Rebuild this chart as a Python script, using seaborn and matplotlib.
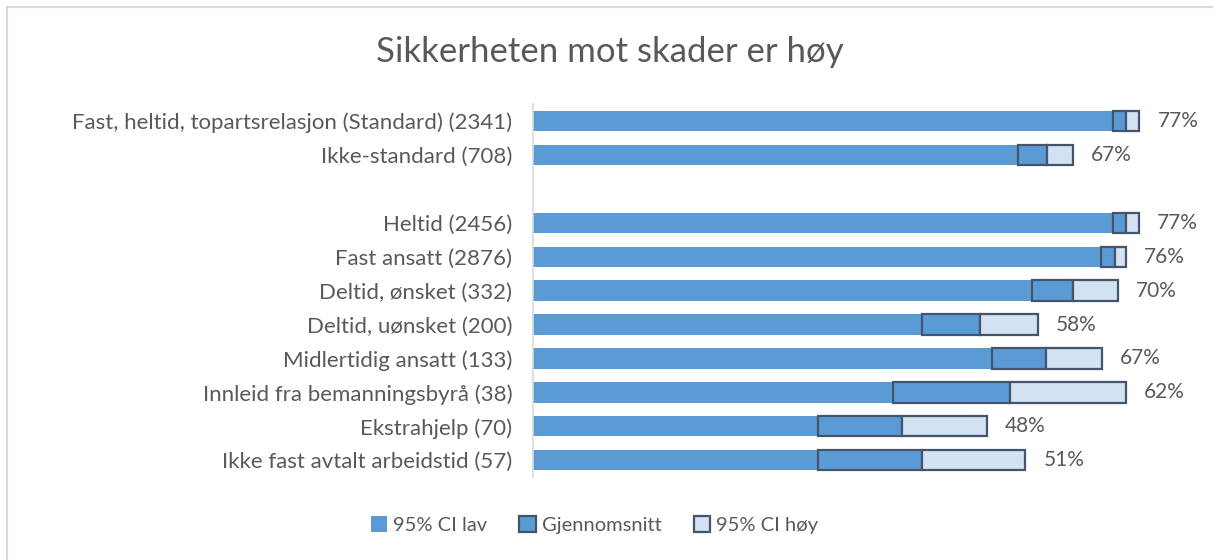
import numpy as np
import pandas as pd
import matplotlib.pyplot as plt
from matplotlib.patches import Patch, Rectangle
import seaborn as sns

# data (percent), top to bottom; "" is the blank spacer row
labels = ["Fast, heltid, topartsrelasjon (Standard) (2341)", "Ikke-standard (708)", "",
          "Heltid (2456)", "Fast ansatt (2876)", "Deltid, ønsket (332)", "Deltid, uønsket (200)",
          "Midlertidig ansatt (133)", "Innleid fra bemanningsbyrå (38)", "Ekstrahjelp (70)",
          "Ikke fast avtalt arbeidstid (57)"]
ci_low  = [75.4, 63.0, np.nan, 75.4, 73.8, 64.8, 50.6, 59.6, 46.8, 37.1, 37.1]
mean    = [77.1, 66.8, np.nan, 77.1, 75.6, 70.2, 58.1, 66.7, 62.0, 48.0, 50.6]
ci_high = [78.8, 70.2, np.nan, 78.7, 77.1, 76.0, 65.6, 73.9, 77.1, 59.0, 64.0]
value_labels = ["77%", "67%", "", "77%", "76%", "70%", "58%", "67%", "62%", "48%", "51%"]

df = pd.DataFrame({"label": labels, "lav": ci_low, "snitt": mean, "hoy": ci_high, "txt": value_labels})
df = df[df["label"] != ""]

BLUE  = "#5B9BD5"
LIGHT = "#D2E2F2"
EDGE  = "#44546A"
TEXT  = "#595959"

sns.set_theme(style="white")
plt.rcParams["font.family"] = ["Lato", "DejaVu Sans"]

fig = plt.figure(figsize=(12.13, 5.6), dpi=100)
ax = fig.add_axes([0.4394, 0.148, 0.5392, 0.666])

# first segment from zero: the lower CI bound
sns.barplot(data=df, y="label", x="lav", order=labels, color=BLUE, saturation=1,
            width=0.6, orient="y", ax=ax, linewidth=0, errorbar=None)

pos = {lab: i for i, lab in enumerate(labels)}
ys = df["label"].map(pos).values
ax.barh(ys, df["snitt"] - df["lav"], left=df["lav"], height=0.6,
        color=BLUE, edgecolor=EDGE, linewidth=1.6)
ax.barh(ys, df["hoy"] - df["snitt"], left=df["snitt"], height=0.6,
        color=LIGHT, edgecolor=EDGE, linewidth=1.6)

for y, hi, txt in zip(ys, df["hoy"], df["txt"]):
    ax.annotate(txt, (hi, y), xytext=(13, 0), textcoords="offset points",
                va="center", ha="left", fontsize=15, color=TEXT)

ax.set_xlim(0, 85)
ax.set_ylim(len(labels) - 0.5, -0.5)
ax.set_xlabel("")
ax.set_ylabel("")
ax.set_xticks([])
ax.tick_params(axis="y", length=0, pad=15, labelsize=16, labelcolor=TEXT)
for s in ["top", "right", "bottom"]:
    ax.spines[s].set_visible(False)
ax.spines["left"].set_color("#D9D9D9")
ax.spines["left"].set_linewidth(1.2)

fig.text(0.503, 0.907, "Sikkerheten mot skader er høy", ha="center", va="center",
         fontsize=25, color=TEXT)

handles = [Patch(facecolor=BLUE, edgecolor="none", label="95% CI lav"),
           Patch(facecolor=BLUE, edgecolor=EDGE, linewidth=1.6, label="Gjennomsnitt"),
           Patch(facecolor=LIGHT, edgecolor=EDGE, linewidth=1.6, label="95% CI høy")]
fig.legend(handles=handles, loc="center", bbox_to_anchor=(0.49, 0.062), ncol=3, frameon=False,
           fontsize=14.5, labelcolor=TEXT, handlelength=0.8, handleheight=0.8,
           handletextpad=0.3, columnspacing=1.6)

# light chart-area border (top and left edges visible)
fig.patches.append(Rectangle((7 / 1213, -0.1), 1.1, 1.1 - 7 / 560, transform=fig.transFigure,
                             fill=False, edgecolor="#D9D9D9", linewidth=1.5))

fig.savefig("out.png", dpi=100)
